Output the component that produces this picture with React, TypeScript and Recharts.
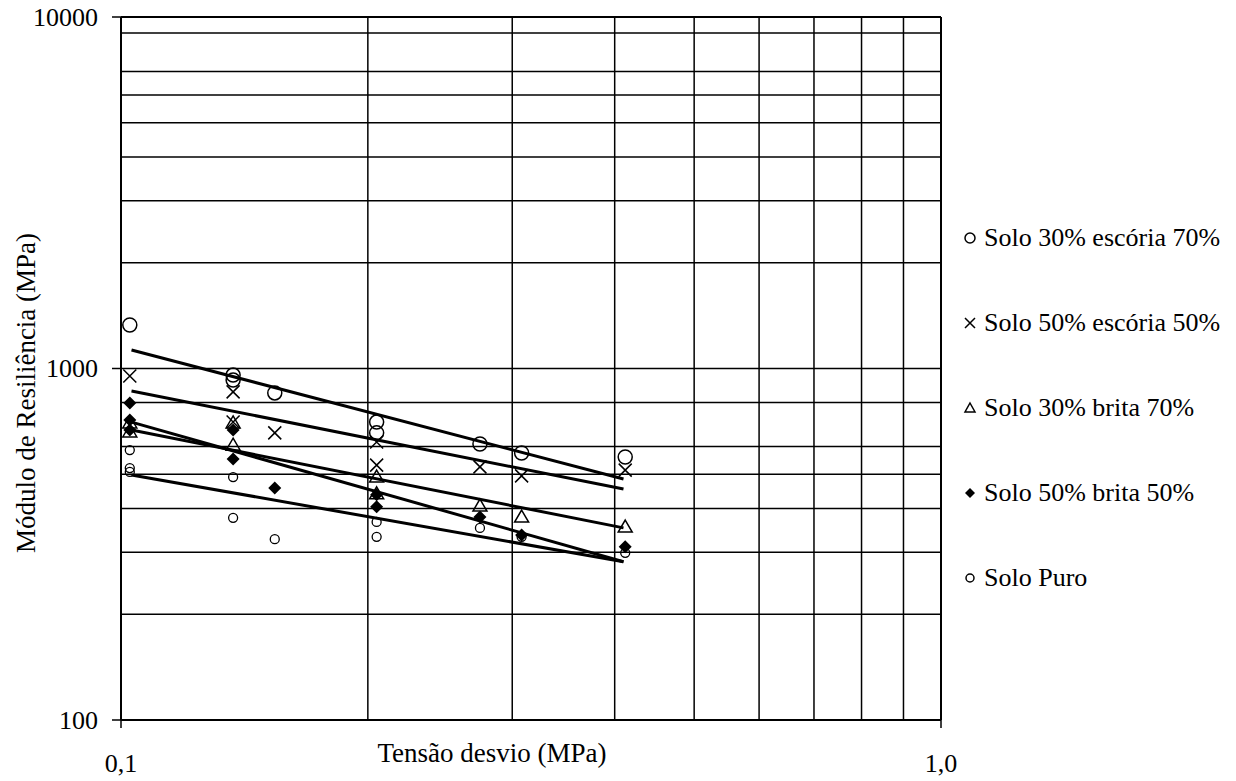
import React from "react";
import {
  ComposedChart,
  Scatter,
  XAxis,
  YAxis,
  CartesianGrid,
  ReferenceLine,
} from "recharts";

// stress levels (MPa) and resilient modulus (MPa)
const escoria70X = [0.1025, 0.137, 0.137, 0.154, 0.205, 0.205, 0.274, 0.308, 0.412];
const escoria70Y = [1330, 958, 927, 852, 704, 656, 610, 575, 560];

const escoria50X = [0.1025, 0.137, 0.137, 0.154, 0.205, 0.205, 0.274, 0.308, 0.412];
const escoria50Y = [952, 858, 704, 656, 618, 531, 525, 495, 514];

const brita70X = [0.1025, 0.1025, 0.137, 0.137, 0.205, 0.205, 0.274, 0.308, 0.412];
const brita70Y = [700, 660, 700, 605, 491, 440, 406, 378, 354];

const brita50X = [0.1025, 0.1025, 0.1025, 0.137, 0.137, 0.154, 0.205, 0.205, 0.274, 0.308, 0.412];
const brita50Y = [798, 714, 668, 668, 553, 457, 437, 404, 378, 336, 311];

const puroX = [0.1025, 0.1025, 0.1025, 0.137, 0.137, 0.154, 0.205, 0.205, 0.274, 0.308, 0.412];
const puroY = [586, 521, 508, 491, 376, 327, 366, 332, 352, 332, 299];

// power-law trend lines (straight on log-log), start and end
const trendX = [0.103, 0.41];
const trendEscoria70 = [1129, 485];
const trendEscoria50 = [863, 454];
const trendBrita70 = [668, 352];
const trendBrita50 = [704, 282];
const trendPuro = [498, 282];

const xTicks = [0.1, 1];
const yTicks = [100, 1000, 10000];
const xGrid = [0.2, 0.3, 0.4, 0.5, 0.6, 0.7, 0.8, 0.9];
const yGrid = [200, 300, 400, 500, 600, 700, 800, 900, 1000, 2000, 3000, 4000, 5000, 6000, 7000, 8000, 9000];

const seriesNames = [
  "Solo 30% escória 70%",
  "Solo 50% escória 50%",
  "Solo 30% brita 70%",
  "Solo 50% brita 50%",
  "Solo Puro",
];

const FONT = "'Liberation Serif', 'Times New Roman', serif";

const toPoints = (xs: number[], ys: number[]) => xs.map((x, i) => ({ x, y: ys[i] }));

const BigCircle = (p: any) => (
  <circle cx={p.cx} cy={p.cy} r={7} fill="none" stroke="#000" strokeWidth={1.5} />
);
const SmallCircle = (p: any) => (
  <circle cx={p.cx} cy={p.cy} r={4.5} fill="none" stroke="#000" strokeWidth={1.3} />
);
const Cross = (p: any) => {
  const s = 6.5;
  return (
    <path
      d={`M${p.cx - s},${p.cy - s}L${p.cx + s},${p.cy + s}M${p.cx - s},${p.cy + s}L${p.cx + s},${p.cy - s}`}
      stroke="#000"
      strokeWidth={1.5}
    />
  );
};
const Triangle = (p: any) => (
  <path
    d={`M${p.cx},${p.cy - 7}L${p.cx + 7},${p.cy + 5}L${p.cx - 7},${p.cy + 5}Z`}
    fill="none"
    stroke="#000"
    strokeWidth={1.5}
  />
);
const Diamond = (p: any) => (
  <path
    d={`M${p.cx},${p.cy - 6.5}L${p.cx + 6.5},${p.cy}L${p.cx},${p.cy + 6.5}L${p.cx - 6.5},${p.cy}Z`}
    fill="#000"
  />
);
const NoShape = () => <g />;

const YTick = (p: any) => (
  <text x={p.x} y={p.y} textAnchor="end" dominantBaseline="central" fontFamily={FONT} fontSize={26} fill="#000">
    {String(p.payload.value)}
  </text>
);
const XTick = (p: any) => (
  <text x={p.x} y={p.y + 33} textAnchor="middle" dominantBaseline="central" fontFamily={FONT} fontSize={26} fill="#000">
    {p.payload.value.toFixed(1).replace(".", ",")}
  </text>
);

const legendIcons = [
  <circle cx={8} cy={8} r={5} fill="none" stroke="#000" strokeWidth={1.5} />,
  <path d="M3,3L13,13M3,13L13,3" stroke="#000" strokeWidth={1.5} />,
  <path d="M8,3L13,12L3,12Z" fill="none" stroke="#000" strokeWidth={1.5} />,
  <path d="M8,3L13,8L8,13L3,8Z" fill="#000" />,
  <circle cx={8} cy={8} r={4} fill="none" stroke="#000" strokeWidth={1.5} />,
];
const legendY = [238, 323, 408, 493, 578];

export default function App() {
  const trendLine = { stroke: "#000", strokeWidth: 3 };
  return (
    <div style={{ position: "absolute", left: 0, top: 0, width: 1236, height: 781, background: "#fff" }}>
      <ComposedChart
        width={1236}
        height={781}
        margin={{ top: 17, right: 295, bottom: 21, left: 21 }}
      >
        <CartesianGrid
          horizontalValues={yGrid}
          verticalValues={xGrid}
          stroke="#000"
          strokeWidth={1.5}
          strokeDasharray=""
        />
        <XAxis
          type="number"
          dataKey="x"
          scale="log"
          domain={[0.1, 1]}
          ticks={xTicks}
          allowDataOverflow
          height={40}
          tickSize={8}
          tickMargin={2}
          tick={<XTick />}
          axisLine={{ stroke: "#000", strokeWidth: 2 }}
          tickLine={{ stroke: "#000", strokeWidth: 1.5 }}
        />
        <YAxis
          type="number"
          dataKey="y"
          scale="log"
          domain={[100, 10000]}
          ticks={yTicks}
          allowDataOverflow
          width={100}
          tickSize={9}
          tickMargin={14}
          tick={<YTick />}
          axisLine={{ stroke: "#000", strokeWidth: 2 }}
          tickLine={{ stroke: "#000", strokeWidth: 1.5 }}
        />
        <ReferenceLine y={10000} stroke="#000" strokeWidth={2} />
        <ReferenceLine x={1} stroke="#000" strokeWidth={2} />

        <Scatter data={toPoints(trendX, trendEscoria70)} line={trendLine} shape={NoShape} isAnimationActive={false} />
        <Scatter data={toPoints(trendX, trendEscoria50)} line={trendLine} shape={NoShape} isAnimationActive={false} />
        <Scatter data={toPoints(trendX, trendBrita70)} line={trendLine} shape={NoShape} isAnimationActive={false} />
        <Scatter data={toPoints(trendX, trendBrita50)} line={trendLine} shape={NoShape} isAnimationActive={false} />
        <Scatter data={toPoints(trendX, trendPuro)} line={trendLine} shape={NoShape} isAnimationActive={false} />

        <Scatter name={seriesNames[0]} data={toPoints(escoria70X, escoria70Y)} shape={BigCircle} isAnimationActive={false} />
        <Scatter name={seriesNames[1]} data={toPoints(escoria50X, escoria50Y)} shape={Cross} isAnimationActive={false} />
        <Scatter name={seriesNames[2]} data={toPoints(brita70X, brita70Y)} shape={Triangle} isAnimationActive={false} />
        <Scatter name={seriesNames[3]} data={toPoints(brita50X, brita50Y)} shape={Diamond} isAnimationActive={false} />
        <Scatter name={seriesNames[4]} data={toPoints(puroX, puroY)} shape={SmallCircle} isAnimationActive={false} />
      </ComposedChart>

      {/* axis titles */}
      <div
        style={{
          position: "absolute",
          left: 26,
          top: 393,
          transform: "translate(-50%, -50%) rotate(-90deg)",
          whiteSpace: "nowrap",
          fontFamily: FONT,
          fontSize: 27,
          lineHeight: 1,
        }}
      >
        Módulo de Resiliência (MPa)
      </div>
      <div
        style={{
          position: "absolute",
          left: 492,
          top: 753,
          transform: "translate(-50%, -50%)",
          whiteSpace: "nowrap",
          fontFamily: FONT,
          fontSize: 27,
          lineHeight: 1,
        }}
      >
        Tensão desvio (MPa)
      </div>

      {/* legend */}
      {seriesNames.map((name, i) => (
        <div
          key={name}
          style={{
            position: "absolute",
            left: 962,
            top: legendY[i],
            transform: "translateY(-50%)",
            display: "flex",
            alignItems: "center",
            whiteSpace: "nowrap",
            fontFamily: FONT,
            fontSize: 26,
            lineHeight: 1,
          }}
        >
          <svg width={16} height={16} style={{ marginRight: 6 }}>
            {legendIcons[i]}
          </svg>
          {name}
        </div>
      ))}
    </div>
  );
}
